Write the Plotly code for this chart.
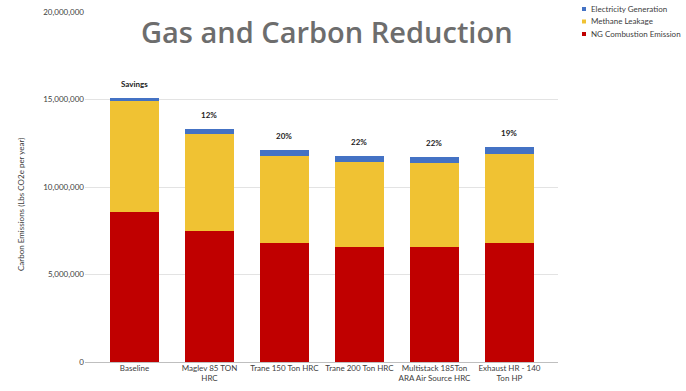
import plotly.graph_objects as go

# Carbon emissions per heating option, in lbs CO2e per year
categories = [
    "Baseline",
    "Maglev 85 TON<br>HRC",
    "Trane 150 Ton HRC",
    "Trane 200 Ton HRC",
    "Multistack 185Ton<br>ARA Air Source HRC",
    "Exhaust HR - 140<br>Ton HP",
]
ng_combustion = [8550000, 7490000, 6780000, 6570000, 6570000, 6820000]
methane_leakage = [6350000, 5530000, 5000000, 4870000, 4830000, 5040000]
electricity = [190000, 280000, 320000, 310000, 340000, 400000]
savings_labels = ["Savings", "12%", "20%", "22%", "22%", "19%"]

series_names = ["NG Combustion Emission", "Methane Leakage", "Electricity Generation"]
series_colors = ["#C00000", "#F0C233", "#4472C4"]

x = list(range(len(categories)))
FONT = "Lato"

fig = go.Figure()
for name, vals, col in zip(series_names, [ng_combustion, methane_leakage, electricity], series_colors):
    fig.add_trace(go.Bar(x=x, y=vals, name=name, showlegend=False,
                         marker=dict(color=col, line=dict(width=0)), width=0.65))

totals = [a + b + c for a, b, c in zip(ng_combustion, methane_leakage, electricity)]
annotations = []
for xi, tot, lab in zip(x, totals, savings_labels):
    annotations.append(dict(x=xi, y=tot, text=f"<b>{lab}</b>", showarrow=False,
                            yshift=14, font=dict(family=FONT, size=8, color="#222222")))

annotations.append(dict(xref="paper", yref="paper", x=0.511, y=1.0,
                        xanchor="center", yanchor="middle", yshift=-19,
                        text="Gas and Carbon Reduction", showarrow=False,
                        font=dict(family="Open Sans", size=29, weight=600, color="#6d6d6d")))
annotations.append(dict(xref="paper", yref="paper", x=0, y=0.5, xshift=-71, yshift=-18,
                        text="Carbon Emissions (Lbs CO2e per year)", textangle=-90,
                        showarrow=False, font=dict(family=FONT, size=8, color="#404040")))

# Compact legend in the top-right corner: small squares with labels
shapes = []
plot_w = 686 - 85 - 128
plot_h = 391 - 12 - 29
legend_rows = list(zip(series_names, series_colors))[::-1]
for i, (name, col) in enumerate(legend_rows):
    cy = 9 + i * 12.5  # pixel row from the top of the page
    yp = (391 - 29 - cy) / plot_h
    x0 = (582 - 85) / plot_w
    x1 = (586 - 85) / plot_w
    dy = 2 / plot_h
    shapes.append(dict(type="rect", xref="paper", yref="paper",
                       x0=x0, x1=x1, y0=yp - dy, y1=yp + dy,
                       fillcolor=col, line=dict(width=0)))
    annotations.append(dict(xref="paper", yref="paper", x=(589 - 85) / plot_w, y=yp,
                            xanchor="left", yanchor="middle", text=name, showarrow=False,
                            font=dict(family=FONT, size=8, color="#404040")))

fig.update_layout(
    width=686, height=391,
    margin=dict(l=85, r=128, t=12, b=29),
    barmode="stack",
    plot_bgcolor="white", paper_bgcolor="white",
    showlegend=False,
    annotations=annotations,
    shapes=shapes,
    xaxis=dict(tickmode="array", tickvals=x, ticktext=categories,
               range=[-0.66, 5.647], showgrid=False, zeroline=False,
               showline=False, ticks="", tickangle=0, automargin=False,
               tickfont=dict(family=FONT, size=8, color="#404040")),
    yaxis=dict(range=[0, 20000000], dtick=5000000, tickformat=",",
               showgrid=True, gridcolor="#e3e3e3", gridwidth=1,
               zeroline=True, zerolinecolor="#bfbfbf", zerolinewidth=1,
               showline=False, ticks="", automargin=False,
               tickfont=dict(family=FONT, size=8, color="#404040")),
)

fig.write_html("out.html")
